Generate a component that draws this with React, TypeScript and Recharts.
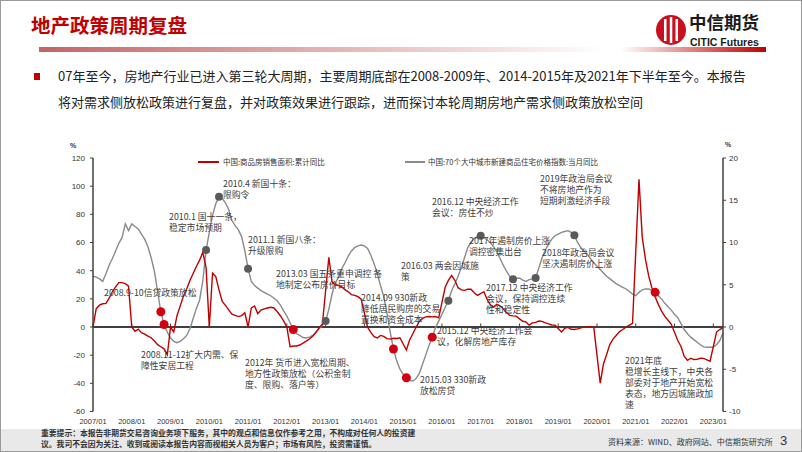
import React from "react";
import { LineChart, Line, XAxis, YAxis, ReferenceLine } from "recharts";

// monthly axis 2007/01 .. 2023/04
const startYear = 2007;
const monthCount = 196;
const months: string[] = Array.from({ length: monthCount }, (_, i) => {
  const y = startYear + Math.floor(i / 12);
  const m = (i % 12) + 1;
  return `${y}/${m < 10 ? "0" + m : m}`;
});
const yearTicks = Array.from({ length: 17 }, (_, k) => k * 12);

// 中国:商品房销售面积:累计同比 (%), left axis; null = 1月无数据
const salesArea: (number | null)[] = [
  0, 13, 15.5, 16.5, 16.8, 20.5, 25, 28.5, 31.5, 31.5, 30.8, 29,
  0, -3, -1.5, -4, -5, -6.5, -7.6, -10, -12.5, -14, -15.5, -19.7,
  0, -3.5, 8, 15, 22, 27, 33, 38, 43, 47.5, 53, 42.1,
  0, 38.2, 35.8, 26.4, 18.2, 15.4, 12.2, 9.1, 8.2, 7.4, 8.1, 10.1,
  0, 13.6, 14.9, 9.5, 12, 12.9, 13.5, 14, 13.5, 11, 8, 4.4,
  0, -14, -13.5, -13.5, -12.8, -11.5, -10, -8.5, -6.5, -4, -0.5, 2,
  null, 49.5, 32, 30, 29.5, 28.5, 26.5, 25, 23, 22.5, 21.5, 19.7,
  null, -0.1, -3.8, -6.8, -7.8, -6, -6.7, -8.3, -8.6, -8, -8.2, -7.6,
  null, -16.3, -9.2, -4.8, -0.2, 3.9, 6.1, 7.2, 7.5, 7.2, 7.4, 6.5,
  null, 28.2, 33.1, 36.5, 33.2, 27.9, 26.4, 26, 26.9, 26.8, 24.3, 22.5,
  null, 25.1, 19.5, 15.7, 14.3, 16.1, 15, 12.7, 10.3, 8.2, 7.9, 7.7,
  null, 4.1, 3.6, 1.3, 2.9, 3.3, 4.2, 4, 2.9, 2.2, 1.4, 1.3,
  null, -3.6, -0.9, -0.3, -1.6, -1.8, -1.3, -0.6, -0.1, 0.1, 0.2, -0.1,
  null, -39.9, -26.3, -19.3, -12.3, -8.4, -5.8, -3.3, -1.8, 0, 1.3, 2.6,
  null, 104.9, 63.8, 48.1, 36.3, 27.7, 21.5, 15.9, 11.3, 7.5, 4.8, 1.9,
  null, -9.6, -13.8, -20.9, -23.6, -22.2, -23.1, -23, -22.2, -22.3, -23.3, -24.3,
  null, -3.6, -1.8, -0.4,
];

// 中国:70个大中城市新建商品住宅价格指数:当月同比 (%), right axis
const priceYoY: number[] = [
  6.0, 5.9, 5.7, 5.4, 6.3, 7.3, 8.1, 9.0, 9.9, 10.6, 12.2, 11.4,
  12.2, 11.9, 11.6, 11.0, 10.4, 9.5, 8.2, 6.6, 4.2, 1.8, 0.3, -0.6,
  -1.3, -1.7, -1.85, -1.7, -1.4, -1.0, -0.2, 1.0, 2.2, 3.2, 5.5, 9.1,
  11.2, 13.2, 14.6, 15.4, 15.2, 14.7, 13.9, 12.6, 12.0, 11.5, 10.7, 9.0,
  6.9, 5.4, 4.9, 4.6, 4.3, 4.1, 3.9, 3.7, 3.4, 3.1, 2.6, 1.9,
  1.3, 0.5, -0.3, -0.8, -1.0, -1.25, -1.3, -1.2, -1.0, -0.6, -0.2, 0.2,
  0.7, 2.1, 3.9, 5.2, 5.9, 6.9, 7.6, 8.4, 9.0, 9.4, 9.6, 9.7,
  9.6, 9.3, 8.5, 7.5, 6.3, 4.9, 3.6, 1.6, -0.6, -2.6, -4.0, -5.0,
  -5.6, -6.0, -6.3, -6.4, -6.1, -5.5, -4.4, -3.3, -2.2, -1.2, -0.1, 0.7,
  1.5, 2.3, 3.1, 4.3, 5.1, 6.0, 7.0, 8.2, 9.4, 10.0, 10.5, 10.7,
  10.8, 10.6, 10.3, 10.0, 9.5, 8.9, 8.1, 7.3, 6.6, 6.0, 5.65, 5.75,
  5.8, 5.55, 5.4, 5.6, 5.7, 5.8, 7.0, 8.2, 9.1, 9.8, 10.4, 10.8,
  11.0, 11.2, 11.3, 11.4, 11.2, 10.85, 10.0, 9.4, 9.0, 8.6, 8.1, 7.6,
  7.2, 6.8, 6.4, 6.0, 5.7, 5.4, 5.1, 4.9, 4.7, 4.5, 4.2, 3.9,
  3.7, 4.1, 4.4, 4.5, 4.5, 4.3, 4.1, 3.7, 3.3, 2.8, 2.4, 2.0,
  1.5, 1.1, 0.4, -0.3, -0.8, -1.2, -1.5, -1.8, -2.1, -2.35, -2.4, -2.4,
  -2.4, -2.1, -1.6, -0.7,
];

// policy markers on the price line
const easingMonths = ["2008/10", "2008/11", "2012/03", "2014/10", "2015/02", "2015/10", "2021/07"];
const tighteningMonths = ["2009/12", "2010/04", "2011/01", "2013/01", "2016/03", "2017/01", "2017/11", "2018/06", "2019/06"];

const leftTicks = [-60, -40, -20, 0, 20, 40, 60, 80, 100, 120];
const rightTicks = [-10, -5, 0, 5, 10, 15, 20];

const notes: { x: number; y: number; lines: string[] }[] = [
  { x: 103, y: 286, lines: ["2008.9-10信贷政策放松"] },
  { x: 140, y: 348, lines: ["2008.11-12扩大内需、保", "障性安居工程"] },
  { x: 168, y: 210, lines: ["2010.1 国十一条，", "稳定市场预期"] },
  { x: 222, y: 177, lines: ["2010.4 新国十条：", "限购令"] },
  { x: 247, y: 233, lines: ["2011.1 新国八条：", "升级限购"] },
  { x: 275, y: 267, lines: ["2013.03 国五条重申调控 各", "地制定公布房价目标"] },
  { x: 244, y: 356, lines: ["2012年 货币进入宽松周期、", "地方性政策放松（公积金制", "度、限购、落户等）"] },
  { x: 360, y: 291, lines: ["2014.09 930新政", "降低居民购房的交易", "置换和资金成本"] },
  { x: 419, y: 373, lines: ["2015.03 330新政", "放松房贷"] },
  { x: 436, y: 324, lines: ["2015.12 中央经济工作会", "议，化解房地产库存"] },
  { x: 400, y: 259, lines: ["2016.03 两会因城施", "策"] },
  { x: 431, y: 195, lines: ["2016.12 中央经济工作", "会议：房住不炒"] },
  { x: 468, y: 234, lines: ["2017年遏制房价上涨", "调控密集出台"] },
  { x: 485, y: 281, lines: ["2017.12 中央经济工作", "会议，保持调控连续", "性和稳定性"] },
  { x: 541, y: 246, lines: ["2018年政治局会议", "坚决遏制房价上涨"] },
  { x: 539, y: 172, lines: ["2019年政治局会议", "不将房地产作为", "短期刺激经济手段"] },
  { x: 624, y: 354, lines: ["2021年底", "稳增长主线下，中央各", "部委对于地产开始宽松", "表态，地方因城施政加", "速"] },
];

const RED = "#c00000";
const GRAY = "#8a8a8a";
const CJK = '"Noto Sans CJK SC", "Noto Sans", sans-serif';

const data = months.map((m, i) => ({ i, month: m, sales: salesArea[i], price: priceYoY[i] }));

function PriceDot(props: any) {
  const { cx, cy, payload, index } = props;
  if (easingMonths.includes(payload.month)) {
    return <circle key={`d${index}`} cx={cx} cy={cy} r={4.5} fill="#d20010" />;
  }
  if (tighteningMonths.includes(payload.month)) {
    return <circle key={`d${index}`} cx={cx} cy={cy} r={4} fill="#5a5a5a" />;
  }
  return <g key={`d${index}`} />;
}

function Logo() {
  return (
    <div style={{ position: "absolute", left: 654, top: 13 }}>
      <svg width={32} height={32} style={{ position: "absolute", left: 0, top: 0 }}>
        <circle cx={16} cy={16} r={15} fill="#c8101e" />
        <rect x={9} y={5} width={2.5} height={22} fill="#fff" />
        <rect x={14.8} y={3} width={2.5} height={26} fill="#fff" />
        <rect x={20.5} y={5} width={2.5} height={22} fill="#fff" />
      </svg>
      <div style={{ position: "absolute", left: 34, top: -2, fontFamily: CJK, fontWeight: 700, fontSize: 17.5, lineHeight: "20px", color: "#1a1a1a", whiteSpace: "nowrap" }}>
        中信期货
      </div>
      <div style={{ position: "absolute", left: 35, top: 23, fontFamily: '"Liberation Sans Narrow", "Liberation Sans", Arial', fontWeight: 700, fontSize: 10.5, lineHeight: "11px", color: "#1a1a1a", whiteSpace: "nowrap" }}>
        CITIC Futures
      </div>
    </div>
  );
}

export default function App() {
  return (
    <div style={{ position: "relative", width: 802, height: 452, overflow: "hidden", background: "#fff", boxSizing: "border-box", border: "1px solid #9a9a9a" }}>
      <style>{`body{margin:0}`}</style>

      <div style={{ position: "absolute", left: 30, top: 12, fontFamily: CJK, fontWeight: 700, fontSize: 19.5, lineHeight: "24px", color: RED, whiteSpace: "nowrap" }}>
        地产政策周期复盘
      </div>
      <Logo />
      <div style={{ position: "absolute", left: 38, top: 46, width: 727, height: 5, background: "linear-gradient(90deg, #c46464 0%, #e3b3b3 40%, #ffffff 78%, #ffffff 80%, #c00000 100%)" }} />

      <div style={{ position: "absolute", left: 33, top: 72, width: 6, height: 7, background: RED }} />
      <div style={{ position: "absolute", left: 57, top: 62, fontFamily: CJK, fontSize: 13, lineHeight: "26px", color: "#222", whiteSpace: "nowrap" }}>
        <div>07年至今，房地产行业已进入第三轮大周期，主要周期底部在2008-2009年、2014-2015年及2021年下半年至今。本报告</div>
        <div>将对需求侧放松政策进行复盘，并对政策效果进行跟踪，进而探讨本轮周期房地产需求侧政策放松空间</div>
      </div>

      <div style={{ position: "absolute", left: 0, top: 140 }}>
        <LineChart width={802} height={290} data={data} margin={{ top: 17, right: 40, bottom: 0, left: 52 }}>
          <XAxis
            dataKey="i"
            type="number"
            domain={[0, monthCount - 1]}
            ticks={yearTicks}
            tickFormatter={(v: number) => months[v]}
            axisLine={false}
            tickLine={false}
            height={19.5}
            tickMargin={1}
            tick={{ fontSize: 7.5, fill: "#333", fontFamily: '"Liberation Sans Narrow", "Liberation Sans", Arial' }}
          />
          <YAxis
            yAxisId="L"
            domain={[-60, 120]}
            ticks={leftTicks}
            width={40}
            axisLine={{ stroke: "#404040", strokeWidth: 1.5 }}
            tickLine={{ stroke: "#404040" }}
            tickSize={3}
            tickMargin={5}
            tick={{ fontSize: 8, fill: "#333", fontFamily: '"Liberation Sans", Arial' }}
          />
          <YAxis
            yAxisId="R"
            orientation="right"
            domain={[-10, 20]}
            ticks={rightTicks}
            width={40}
            axisLine={{ stroke: "#404040", strokeWidth: 1.5 }}
            tickLine={{ stroke: "#404040" }}
            tickSize={3}
            tickMargin={3}
            tick={{ fontSize: 8, fill: "#333", fontFamily: '"Liberation Sans", Arial' }}
          />
          <ReferenceLine yAxisId="L" y={0} stroke="#404040" strokeWidth={2} />
          {yearTicks.map((t) => (
            <ReferenceLine key={t} yAxisId="L" segment={[{ x: t, y: 0 }, { x: t, y: 2.5 }]} stroke="#404040" strokeWidth={1} />
          ))}
          <Line yAxisId="R" dataKey="price" stroke={GRAY} strokeWidth={1.4} dot={PriceDot} activeDot={false} connectNulls isAnimationActive={false} />
          <Line yAxisId="L" dataKey="sales" stroke={RED} strokeWidth={1.4} dot={false} activeDot={false} connectNulls isAnimationActive={false} />
        </LineChart>
      </div>

      {/* axis units */}
      <div style={{ position: "absolute", left: 69, top: 141, fontSize: 7, fontWeight: 700, fontFamily: '"Liberation Sans", Arial', color: "#333" }}>%</div>
      <div style={{ position: "absolute", left: 724, top: 140, fontSize: 7, fontWeight: 700, fontFamily: '"Liberation Sans", Arial', color: "#333" }}>%</div>

      {/* legend */}
      <div style={{ position: "absolute", left: 197, top: 160, width: 21, height: 1.5, background: RED }} />
      <div style={{ position: "absolute", left: 222, top: 156, fontFamily: CJK, fontSize: 7.5, lineHeight: "10px", color: "#333", whiteSpace: "nowrap" }}>中国:商品房销售面积:累计同比</div>
      <div style={{ position: "absolute", left: 404, top: 160, width: 20, height: 1.5, background: GRAY }} />
      <div style={{ position: "absolute", left: 427, top: 156, fontFamily: CJK, fontSize: 7.5, lineHeight: "10px", color: "#333", whiteSpace: "nowrap" }}>中国:70个大中城市新建商品住宅价格指数:当月同比</div>

      {notes.map((n, k) => (
        <div key={k} style={{ position: "absolute", left: n.x, top: n.y, fontFamily: CJK, fontSize: 8.8, lineHeight: "11px", color: "#404040", whiteSpace: "nowrap" }}>
          {n.lines.map((l, j) => (
            <div key={j}>{l}</div>
          ))}
        </div>
      ))}

      {/* footer */}
      <div style={{ position: "absolute", left: 0, top: 428, width: 802, height: 24, background: "#e9e9e9" }} />
      <div style={{ position: "absolute", left: 40, top: 427, fontFamily: CJK, fontWeight: 700, fontSize: 7.8, lineHeight: "10.5px", color: "#333", whiteSpace: "nowrap" }}>
        <div>重要提示：本报告非期货交易咨询业务项下服务，其中的观点和信息仅作参考之用，不构成对任何人的投资建</div>
        <div>议。我司不会因为关注、收到或阅读本报告内容而视相关人员为客户；市场有风险，投资需谨慎。</div>
      </div>
      <div style={{ position: "absolute", left: 607, top: 436, fontFamily: CJK, fontSize: 8, lineHeight: "10px", color: "#333", whiteSpace: "nowrap" }}>资料来源：WIND、政府网站、中信期货研究所</div>
      <div style={{ position: "absolute", left: 779, top: 432, fontFamily: '"Liberation Sans", Arial', fontSize: 13, lineHeight: "16px", color: "#333" }}>3</div>
    </div>
  );
}
